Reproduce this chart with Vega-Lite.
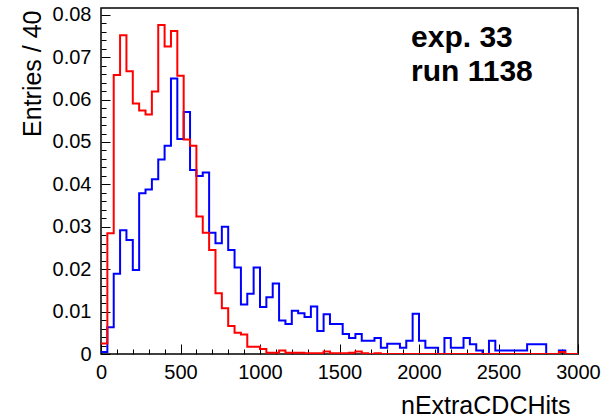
{
  "$schema": "https://vega.github.io/schema/vega-lite/v6.json",
  "width": 477,
  "height": 346,
  "autosize": {"type": "none"},
  "padding": {"left": 101, "top": 8, "right": 35, "bottom": 63},
  "background": "white",
  "config": {
    "font": "Liberation Sans",
    "view": {"stroke": "#000000", "strokeWidth": 1.5},
    "axis": {"grid": false, "domain": false, "tickColor": "#000000", "tickWidth": 1, "labelColor": "#000000", "titleColor": "#000000", "labelFlush": false, "labelOverlap": false}
  },
  "datasets": {
    "hist": [
      {"lo": 0, "s": "red", "v": 0.0025}, {"lo": 40, "s": "red", "v": 0.0285}, {"lo": 80, "s": "red", "v": 0.0658}, {"lo": 120, "s": "red", "v": 0.0752}, {"lo": 160, "s": "red", "v": 0.0667}, {"lo": 200, "s": "red", "v": 0.0591}, {"lo": 240, "s": "red", "v": 0.0574}, {"lo": 280, "s": "red", "v": 0.0565}, {"lo": 320, "s": "red", "v": 0.0619}, {"lo": 360, "s": "red", "v": 0.0776}, {"lo": 400, "s": "red", "v": 0.0725}, {"lo": 440, "s": "red", "v": 0.0762}, {"lo": 480, "s": "red", "v": 0.0656}, {"lo": 520, "s": "red", "v": 0.0506}, {"lo": 560, "s": "red", "v": 0.0491}, {"lo": 600, "s": "red", "v": 0.0324}, {"lo": 640, "s": "red", "v": 0.0286}, {"lo": 680, "s": "red", "v": 0.0245}, {"lo": 720, "s": "red", "v": 0.0143}, {"lo": 760, "s": "red", "v": 0.0108}, {"lo": 800, "s": "red", "v": 0.0066}, {"lo": 840, "s": "red", "v": 0.005}, {"lo": 880, "s": "red", "v": 0.0046}, {"lo": 920, "s": "red", "v": 0.0017}, {"lo": 960, "s": "red", "v": 0.0017}, {"lo": 1000, "s": "red", "v": 0.0012}, {"lo": 1040, "s": "red", "v": 0.0003}, {"lo": 1080, "s": "red", "v": 0.0003}, {"lo": 1120, "s": "red", "v": 0.0008}, {"lo": 1160, "s": "red", "v": 0.0003}, {"lo": 1200, "s": "red", "v": 0.0003}, {"lo": 1240, "s": "red", "v": 0.0003}, {"lo": 1280, "s": "red", "v": 0.0002}, {"lo": 1320, "s": "red", "v": 0.0002}, {"lo": 1360, "s": "red", "v": 0.0002}, {"lo": 1400, "s": "red", "v": 0.0006}, {"lo": 1440, "s": "red", "v": 0.0002}, {"lo": 1480, "s": "red", "v": 0.0002}, {"lo": 1520, "s": "red", "v": 0.0002}, {"lo": 1560, "s": "red", "v": 0.0003}, {"lo": 1600, "s": "red", "v": 0.0006}, {"lo": 1640, "s": "red", "v": 0.0002}, {"lo": 1680, "s": "red", "v": 0}, {"lo": 1720, "s": "red", "v": 0.0002}, {"lo": 1760, "s": "red", "v": 0}, {"lo": 1800, "s": "red", "v": 0}, {"lo": 1840, "s": "red", "v": 0}, {"lo": 1880, "s": "red", "v": 0}, {"lo": 1920, "s": "red", "v": 0}, {"lo": 1960, "s": "red", "v": 0}, {"lo": 2000, "s": "red", "v": 0}, {"lo": 2040, "s": "red", "v": 0}, {"lo": 2080, "s": "red", "v": 0}, {"lo": 2120, "s": "red", "v": 0}, {"lo": 2160, "s": "red", "v": 0}, {"lo": 2200, "s": "red", "v": 0}, {"lo": 2240, "s": "red", "v": 0}, {"lo": 2280, "s": "red", "v": 0}, {"lo": 2320, "s": "red", "v": 0}, {"lo": 2360, "s": "red", "v": 0}, {"lo": 2400, "s": "red", "v": 0}, {"lo": 2440, "s": "red", "v": 0}, {"lo": 2480, "s": "red", "v": 0}, {"lo": 2520, "s": "red", "v": 0}, {"lo": 2560, "s": "red", "v": 0}, {"lo": 2600, "s": "red", "v": 0}, {"lo": 2640, "s": "red", "v": 0}, {"lo": 2680, "s": "red", "v": 0}, {"lo": 2720, "s": "red", "v": 0}, {"lo": 2760, "s": "red", "v": 0}, {"lo": 2800, "s": "red", "v": 0}, {"lo": 2840, "s": "red", "v": 0}, {"lo": 2880, "s": "red", "v": 0.0005}, {"lo": 2920, "s": "red", "v": 0}, {"lo": 2960, "s": "red", "v": 0}, {"lo": 3000, "s": "red", "v": 0},
      {"lo": 0, "s": "blue", "v": 0.0005}, {"lo": 40, "s": "blue", "v": 0.0063}, {"lo": 80, "s": "blue", "v": 0.0189}, {"lo": 120, "s": "blue", "v": 0.0292}, {"lo": 160, "s": "blue", "v": 0.0269}, {"lo": 200, "s": "blue", "v": 0.0198}, {"lo": 240, "s": "blue", "v": 0.0379}, {"lo": 280, "s": "blue", "v": 0.0388}, {"lo": 320, "s": "blue", "v": 0.0412}, {"lo": 360, "s": "blue", "v": 0.0459}, {"lo": 400, "s": "blue", "v": 0.0491}, {"lo": 440, "s": "blue", "v": 0.065}, {"lo": 480, "s": "blue", "v": 0.0507}, {"lo": 520, "s": "blue", "v": 0.0571}, {"lo": 560, "s": "blue", "v": 0.0434}, {"lo": 600, "s": "blue", "v": 0.042}, {"lo": 640, "s": "blue", "v": 0.0428}, {"lo": 680, "s": "blue", "v": 0.0286}, {"lo": 720, "s": "blue", "v": 0.0261}, {"lo": 760, "s": "blue", "v": 0.03}, {"lo": 800, "s": "blue", "v": 0.0245}, {"lo": 840, "s": "blue", "v": 0.0204}, {"lo": 880, "s": "blue", "v": 0.0117}, {"lo": 920, "s": "blue", "v": 0.0142}, {"lo": 960, "s": "blue", "v": 0.0204}, {"lo": 1000, "s": "blue", "v": 0.0111}, {"lo": 1040, "s": "blue", "v": 0.0134}, {"lo": 1080, "s": "blue", "v": 0.0166}, {"lo": 1120, "s": "blue", "v": 0.0079}, {"lo": 1160, "s": "blue", "v": 0.0071}, {"lo": 1200, "s": "blue", "v": 0.0102}, {"lo": 1240, "s": "blue", "v": 0.0096}, {"lo": 1280, "s": "blue", "v": 0.0087}, {"lo": 1320, "s": "blue", "v": 0.0112}, {"lo": 1360, "s": "blue", "v": 0.0054}, {"lo": 1400, "s": "blue", "v": 0.0094}, {"lo": 1440, "s": "blue", "v": 0.0071}, {"lo": 1480, "s": "blue", "v": 0.0071}, {"lo": 1520, "s": "blue", "v": 0.0047}, {"lo": 1560, "s": "blue", "v": 0.0038}, {"lo": 1600, "s": "blue", "v": 0.0047}, {"lo": 1640, "s": "blue", "v": 0.0031}, {"lo": 1680, "s": "blue", "v": 0.0031}, {"lo": 1720, "s": "blue", "v": 0.0038}, {"lo": 1760, "s": "blue", "v": 0.0015}, {"lo": 1800, "s": "blue", "v": 0.0024}, {"lo": 1840, "s": "blue", "v": 0.0024}, {"lo": 1880, "s": "blue", "v": 0.0015}, {"lo": 1920, "s": "blue", "v": 0.0031}, {"lo": 1960, "s": "blue", "v": 0.0095}, {"lo": 2000, "s": "blue", "v": 0.0031}, {"lo": 2040, "s": "blue", "v": 0.0015}, {"lo": 2080, "s": "blue", "v": 0.0015}, {"lo": 2120, "s": "blue", "v": 0}, {"lo": 2160, "s": "blue", "v": 0.0038}, {"lo": 2200, "s": "blue", "v": 0.0015}, {"lo": 2240, "s": "blue", "v": 0.0015}, {"lo": 2280, "s": "blue", "v": 0.0038}, {"lo": 2320, "s": "blue", "v": 0.0023}, {"lo": 2360, "s": "blue", "v": 0.0008}, {"lo": 2400, "s": "blue", "v": 0}, {"lo": 2440, "s": "blue", "v": 0.0031}, {"lo": 2480, "s": "blue", "v": 0.0008}, {"lo": 2520, "s": "blue", "v": 0.0008}, {"lo": 2560, "s": "blue", "v": 0.0008}, {"lo": 2600, "s": "blue", "v": 0.0008}, {"lo": 2640, "s": "blue", "v": 0.0008}, {"lo": 2680, "s": "blue", "v": 0.0023}, {"lo": 2720, "s": "blue", "v": 0.0023}, {"lo": 2760, "s": "blue", "v": 0.0023}, {"lo": 2800, "s": "blue", "v": 0}, {"lo": 2840, "s": "blue", "v": 0}, {"lo": 2880, "s": "blue", "v": 0.0008}, {"lo": 2920, "s": "blue", "v": 0}, {"lo": 2960, "s": "blue", "v": 0}, {"lo": 3000, "s": "blue", "v": 0}
    ]
  },
  "resolve": {"axis": {"x": "independent", "y": "independent"}},
  "layer": [
    {
      "data": {"name": "hist"},
      "transform": [{"filter": "datum.s === 'blue'"}],
      "mark": {"type": "line", "interpolate": "step-after", "strokeWidth": 2, "color": "#0000ff", "clip": true},
      "encoding": {
        "x": {"field": "lo", "type": "quantitative", "scale": {"domain": [0, 3000], "nice": false, "zero": false},
          "axis": {"orient": "bottom", "values": [0, 500, 1000, 1500, 2000, 2500, 3000], "format": "d", "tickSize": -10, "labelFontSize": 20, "labelPadding": 18.5, "title": "nExtraCDCHits", "titleFontSize": 25, "titleFontWeight": "normal", "titleAnchor": "end", "titleAlign": "right", "titleBaseline": "alphabetic", "titleX": 469, "titleY": 59}},
        "y": {"field": "v", "type": "quantitative", "scale": {"domain": [0, 0.0816], "nice": false},
          "axis": {"orient": "left", "values": [0, 0.01, 0.02, 0.03, 0.04, 0.05, 0.06, 0.07, 0.08], "format": ".2~f", "tickSize": -9, "labelFontSize": 20, "labelPadding": 19, "title": "Entries / 40", "titleFontSize": 25, "titleFontWeight": "normal", "titleAngle": 270, "titleAlign": "right", "titleBaseline": "alphabetic", "titleX": -61, "titleY": 2}}
      }
    },
    {
      "data": {"name": "hist"},
      "transform": [{"filter": "datum.s === 'red'"}],
      "mark": {"type": "line", "interpolate": "step-after", "strokeWidth": 2, "color": "#ff0000", "clip": true},
      "encoding": {
        "x": {"field": "lo", "type": "quantitative",
          "axis": {"orient": "bottom", "values": [100, 200, 300, 400, 600, 700, 800, 900, 1100, 1200, 1300, 1400, 1600, 1700, 1800, 1900, 2100, 2200, 2300, 2400, 2600, 2700, 2800, 2900], "tickSize": -5, "labels": false, "title": null}},
        "y": {"field": "v", "type": "quantitative",
          "axis": {"orient": "left", "values": [0.002, 0.004, 0.006, 0.008, 0.012, 0.014, 0.016, 0.018, 0.022, 0.024, 0.026, 0.028, 0.032, 0.034, 0.036, 0.038, 0.042, 0.044, 0.046, 0.048, 0.052, 0.054, 0.056, 0.058, 0.062, 0.064, 0.066, 0.068, 0.072, 0.074, 0.076, 0.078], "tickSize": -5, "labels": false, "title": null}}
      }
    },
    {
      "data": {"values": [{"note": "exp. 33 / run 1138"}]},
      "mark": {"type": "text", "text": ["exp. 33", "run 1138"], "align": "left", "baseline": "alphabetic", "fontSize": 30, "fontWeight": "bold", "lineHeight": 34, "color": "#000000"},
      "encoding": {
        "x": {"datum": 1950, "type": "quantitative", "axis": null},
        "y": {"datum": 0.0724, "type": "quantitative", "axis": null}
      }
    }
  ]
}
